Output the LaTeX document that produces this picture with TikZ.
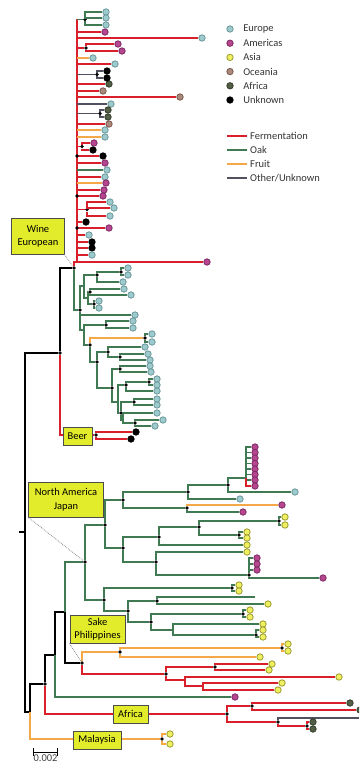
\documentclass[tikz,border=0pt]{standalone}
\usepackage{fontspec}
\setmainfont{Carlito}
\usetikzlibrary{positioning}

\definecolor{ceu}{HTML}{9CCACD}
\definecolor{ceud}{HTML}{6A989B}
\definecolor{cam}{HTML}{B5468F}
\definecolor{camd}{HTML}{7E2A63}
\definecolor{cas}{HTML}{EEF060}
\definecolor{casd}{HTML}{9C9C30}
\definecolor{coc}{HTML}{A98A7C}
\definecolor{cocd}{HTML}{77594C}
\definecolor{caf}{HTML}{525E45}
\definecolor{cafd}{HTML}{343D2C}
\definecolor{cfe}{HTML}{D9202A}
\definecolor{cok}{HTML}{3F7A52}
\definecolor{cfr}{HTML}{F5A847}
\definecolor{cot}{HTML}{50505E}
\definecolor{clab}{HTML}{E3EC2B}

\tikzset{
  leafc/.style = {circle, inner sep=0pt, minimum size=6.4bp, line width=0.8bp},
  t_eu/.style = {leafc, fill=ceu, draw=ceud},% Europe
  t_am/.style = {leafc, fill=cam, draw=camd},% Americas
  t_as/.style = {leafc, fill=cas, draw=casd},% Asia
  t_oc/.style = {leafc, fill=coc, draw=cocd},% Oceania
  t_af/.style = {leafc, fill=caf, draw=cafd},% Africa
  t_un/.style = {leafc, fill=black, draw=black},% Unknown
  ndot/.style = {circle, fill=black, inner sep=0pt, minimum size=3.6bp},
  brl/.style = {line width=1.3bp},
  b_fe/.style = {brl, draw=cfe},% fermentation
  b_ok/.style = {brl, draw=cok},% oak
  b_fr/.style = {brl, draw=cfr},% fruit
  b_ot/.style = {brl, draw=cot},% other / unknown
  b_bk/.style = {brl, draw=black},
  clade/.style = {draw=black!70, fill=clab, line width=1bp, align=center,
    inner sep=1.2bp, font=\fontsize{10.5}{13.5}\selectfont},
  guideln/.style = {draw=black!45, densely dotted, line width=0.8bp},
  legtext/.style = {anchor=west, inner sep=0pt, text=black!80,
    font=\fontsize{10.5}{12}\selectfont}
}
\newcommand{\brch}[3]{\draw[#1] (#2) |- (#3);}

\begin{document}
\begin{tikzpicture}[x=1bp, y=-1bp]
\useasboundingbox (0,0) rectangle (359,766);
\clip (0,0) rectangle (359,766);

% inner nodes with a dot
\foreach \n/\x/\y in {A1/60/353, B1/45/684, WO/74/268, BE/96/435, NJ/85/562,
    SK/82/663, AF/227/714, MY/162/739, Wg/85/19.5, Wa/86/48, Wb/97/74.5,
    Wc/100/113.5, Wd/82/146.5, We/87/209.5,
    O0/80/310, O3/97/275, O5/121/272, O6/90/292, O7/94/304, O8/106/325,
    O9/90/345, O10/145/338, O11/97/362, O12/108/352, O14/120/357,
    O13/112/388, O15/120/369, O17/126/385, O19/149/382, O18/121/413,
    O20/134/402, O22/135/423,
    N1/105/525, N2/123/500, N3/123/548, N4/188/492, N5/187/508, N6/228/485,
    N8/159/537, N9/156/562, N10/199/527, N11/279/521, N12/239/535, N13/249/575,
    M1/104/600, M2/232/588, M3/128/611, M4/157/601, M5/151/622, M6/243/614,
    M8/256/635, S1/120/652, S2/166/674, S3/282/648, S4/215/667,
    F1/252/706, F2/278/722, F3/307/726}
  {\node[ndot] (\n) at (\x,\y) {};}
% inner nodes without a dot
\foreach \n/\x/\y in {R/25/532, Rt/19/532, A2/30/712, B2/55/655, B3/65/612,
    W0/77/262, Wtop/77/19.5, O1/84/286, O2/84/330, O4/88/298, O16/118/402,
    O21/123/420, N7/246/478, M7/173/630, S5/185/680, S6/203/686,
    M4e/255/597, F2e/359/718}
  {\coordinate (\n) at (\x,\y);}

\draw[b_bk] (Rt) -- (R);
% parent / child / colour
\foreach \p/\c/\b in {R/A1/b_bk, R/A2/b_bk, A1/WO/b_bk, A1/BE/b_fe,
    A2/B1/b_bk, A2/MY/b_fr, B1/B2/b_bk, B1/AF/b_fe, B2/B3/b_bk, B3/NJ/b_ok,
    B3/SK/b_bk, WO/W0/b_fe, WO/O0/b_ok,
    O0/O1/b_ok, O0/O2/b_ok, O1/O3/b_ok, O1/O4/b_ok, O3/O5/b_ok, O4/O6/b_ok,
    O4/O7/b_ok, O2/O8/b_ok, O2/O9/b_ok, O9/O10/b_fr, O9/O11/b_ok,
    O11/O12/b_ok, O11/O13/b_ok, O12/O14/b_ok, O13/O15/b_ok, O13/O16/b_ok,
    O16/O17/b_ok, O16/O18/b_ok, O17/O19/b_ok, O18/O20/b_ok, O18/O21/b_ok,
    O21/O22/b_ok,
    NJ/N1/b_ok, NJ/M1/b_ok, N1/N2/b_ok, N1/N3/b_ok, N2/N4/b_ok, N2/N5/b_ok,
    N4/N6/b_ok, N6/N7/b_ok, N3/N8/b_ok, N3/N9/b_ok, N8/N10/b_ok,
    N10/N11/b_ok, N10/N12/b_ok, N9/N13/b_ok,
    M1/M2/b_ok, M1/M3/b_ok, M3/M4/b_ok, M3/M5/b_ok, M4/M4e/b_ok,
    M5/M6/b_ok, M5/M7/b_ok, M7/M8/b_ok,
    SK/S1/b_fr, SK/S2/b_fe, S1/S3/b_fr, S2/S4/b_fe, S2/S5/b_fe, S5/S6/b_fe,
    AF/F1/b_fe, AF/F2/b_fe, F2/F2e/b_ot, F2/F3/b_fe}
  {\brch{\b}{\p}{\c}}

% wine backbone
\draw[b_fe, line width=1.8bp] (W0) -- (Wtop);
\foreach \n/\y/\b in {Wg/19.5/b_ok, Wa/48/b_fe, Wb/74.5/b_ot, Wc/113.5/b_ot,
    Wd/146.5/b_fe, We/209.5/b_fe}{
  \coordinate (wb\n) at (77,\y);
  \draw[\b] (wb\n) -- (\n);
}
\foreach \y/\x/\t/\b in {32/105/t_am/b_fe, 38/202/t_eu/b_fe, 58/93/t_eu/b_fr,
    64/115/t_eu/b_fe, 84/109/t_af/b_fe, 91/103/t_oc/b_fe, 97/180/t_oc/b_fe,
    104/111/t_eu/b_ot, 124/109/t_oc/b_fe, 130/105/t_eu/b_fr, 137/105/t_eu/b_fr,
    156/103/t_un/b_fe, 163/105/t_am/b_fe, 170/107/t_eu/b_ok, 177/105/t_eu/b_fe,
    183/106/t_am/b_fr, 190/104/t_am/b_fe, 196/103/t_am/b_fe, 222/86/t_un/b_fe,
    228/109/t_am/b_fe, 235/89/t_eu/b_fe, 242/92/t_un/b_fe, 248/92/t_un/b_fe,
    255/92/t_eu/b_fe, 262/207/t_am/b_fe}{
  \coordinate (wb\y) at (77,\y);
  \node[\t] (wt\y) at (\x,\y) {};
  \draw[\b] (wb\y) -- (wt\y);
}
\foreach \y in {156,196,228}
  {\node[ndot] (wd\y) at (wb\y) {};}

% leaves: parent / name / x / y / region / colour
\foreach \p/\n/\x/\y/\t/\b in {
    BE/tbe1/136/432/t_un/b_fe, BE/tbe2/131/439/t_un/b_fe,
    MY/tmy1/170/734/t_as/b_fr, MY/tmy2/170/744/t_as/b_fr,
    B2/tb2/235/697/t_am/b_ok,
    Wg/tg1/106/12/t_eu/b_ok, Wg/tg2/106/18/t_eu/b_ok, Wg/tg3/106/25/t_eu/b_ok,
    Wa/ta1/118/44/t_am/b_fe, Wa/ta2/122/51/t_am/b_fe,
    Wb/tb1/107/71/t_un/b_ot, Wb/tb2/107/78/t_un/b_ot,
    Wc/tc1/108/110/t_af/b_ot, Wc/tc2/108/117/t_af/b_ot,
    Wd/td1/94/143/t_am/b_fe, Wd/td2/93/150/t_un/b_fe,
    We/te1/110/202/t_eu/b_fe, We/te2/114/208/t_eu/b_fe, We/te3/110/216/t_eu/b_fe,
    O0/to1/135/315/t_eu/b_ok, O3/to2/123/282/t_eu/b_ok,
    O5/to3/128/268/t_eu/b_ok, O5/to4/128/275/t_eu/b_ok,
    O6/to5/124/289/t_eu/b_ok, O6/to6/131/295/t_eu/b_ok,
    O7/to7/99/301/t_eu/b_ok, O7/to8/99/308/t_eu/b_ok,
    O8/to9/133/321/t_eu/b_ok, O8/to10/133/328/t_eu/b_ok,
    O10/to11/152/334/t_eu/b_ok, O10/to12/152/342/t_eu/b_ok,
    O12/to13/145/347/t_eu/b_ok,
    O14/to14/148/354/t_eu/b_ok, O14/to15/150/360/t_eu/b_ok,
    O15/to16/150/366/t_eu/b_ok, O15/to17/151/372/t_eu/b_ok,
    O19/to18/157/379/t_eu/b_ok, O19/to19/157/385/t_eu/b_ok,
    O17/to20/157/391/t_eu/b_ok,
    O20/to21/157/399/t_eu/b_ok, O20/to22/157/405/t_eu/b_ok,
    O21/to23/157/413/t_eu/b_ok,
    O22/to24/163/420/t_eu/b_ok, O22/to25/155/426/t_eu/b_ok,
    N4/tn1/240/499/t_eu/b_ok, N6/tn2/295/492/t_eu/b_ok,
    N7/tp0/255/447/t_am/b_ok, N7/tp1/255/452.5/t_am/b_ok,
    N7/tp2/255/458/t_am/b_ok, N7/tp3/255/463.5/t_am/b_ok,
    N7/tp4/255/469/t_am/b_ok, N7/tp5/255/474.5/t_am/b_ok,
    N7/tp6/255/480/t_am/b_ok, N7/tp7/255/486/t_am/b_fe,
    N5/tn3/282/505/t_am/b_fr, N5/tn4/243/512/t_am/b_ok,
    N11/tn5/285/517/t_as/b_ok, N11/tn6/285/525/t_as/b_ok,
    N12/tn7/247/532/t_as/b_ok, N12/tn8/247/538/t_as/b_ok,
    N8/tn9/247/545/t_as/b_ok, N9/tn10/247/552/t_as/b_ok,
    N13/tn11/257/558/t_am/b_ok, N13/tn12/257/564/t_am/b_ok,
    N13/tn13/257/570/t_am/b_ok, N13/tn14/323/578/t_am/b_ok,
    M2/tm1/239/585/t_as/b_ok, M2/tm2/239/591/t_as/b_ok,
    M4/tm3/268/604/t_as/b_ok,
    M6/tm4/250/610/t_as/b_ok, M6/tm5/250/617/t_as/b_ok,
    M7/tm6/263/624/t_as/b_ok,
    M8/tm7/263/630/t_as/b_ok, M8/tm8/263/637/t_as/b_ok,
    S3/ts1/288/644/t_as/b_fr, S3/ts2/288/651/t_as/b_fr,
    S1/ts3/260/657/t_as/b_fr,
    S4/ts4/272/664/t_as/b_fe, S4/ts5/269/670/t_as/b_fe,
    S5/ts6/339/677/t_as/b_fe,
    S6/ts7/282/683/t_as/b_fe, S6/ts8/278/690/t_as/b_fe,
    F1/tf1/350/703/t_af/b_fe, F1/tf2/360/710/t_af/b_fe,
    F3/tf3/313/722/t_af/b_fe, F3/tf4/313/729/t_af/b_fe}{
  \node[\t] (\n) at (\x,\y) {};
  \brch{\b}{\p}{\n}
}

% clade labels
\node[clade, minimum width=52bp, minimum height=36bp] (L_wine) at (38,236) {Wine\\European};
\node[clade, minimum width=29bp, minimum height=18bp] (L_beer) at (77.5,436) {Beer};
\node[clade, minimum width=74bp, minimum height=35bp] (L_naj) at (66,499.5) {North America\\Japan};
\node[clade, minimum width=55bp, minimum height=28bp] (L_sake) at (97.5,629) {Sake\\Philippines};
\node[clade, minimum width=35bp, minimum height=18bp] (L_afr) at (130.5,714) {Africa};
\node[clade, minimum width=48bp, minimum height=18bp] (L_mal) at (97,740) {Malaysia};
\draw[guideln] (L_wine.south east) -- (WO);
\draw[guideln] (L_naj.south west) -- (NJ);
\draw[guideln] (L_sake.south west) -- (SK);

% legend
\foreach \i/\t/\n in {0/t_eu/Europe, 1/t_am/Americas, 2/t_as/Asia,
    3/t_oc/Oceania, 4/t_af/Africa, 5/t_un/Unknown}{
  \node[\t] (lg\i) at (230,{29+14.2*\i}) {};
  \node[legtext, right=9.5bp of lg\i] (lgt\i) {\n};
}
\foreach \i/\b/\n in {0/b_fe/Fermentation, 1/b_ok/Oak, 2/b_fr/Fruit,
    3/b_ot/{Other/Unknown}}{
  \coordinate (ls\i) at (227,{136+14*\i});
  \coordinate (le\i) at (247,{136+14*\i});
  \draw[\b, line width=2.2bp] (ls\i) -- (le\i);
  \node[legtext, right=3bp of le\i] (llt\i) {\n};
}

% scale bar
\coordinate (sb1) at (33,752);
\coordinate (sb2) at (58,752);
\draw[line width=0.9bp, |-|] (sb1) -- (sb2);
\node[legtext, anchor=north, text=black!75] (sbt) at (45.5,755) {0.002};
\end{tikzpicture}
\end{document}
